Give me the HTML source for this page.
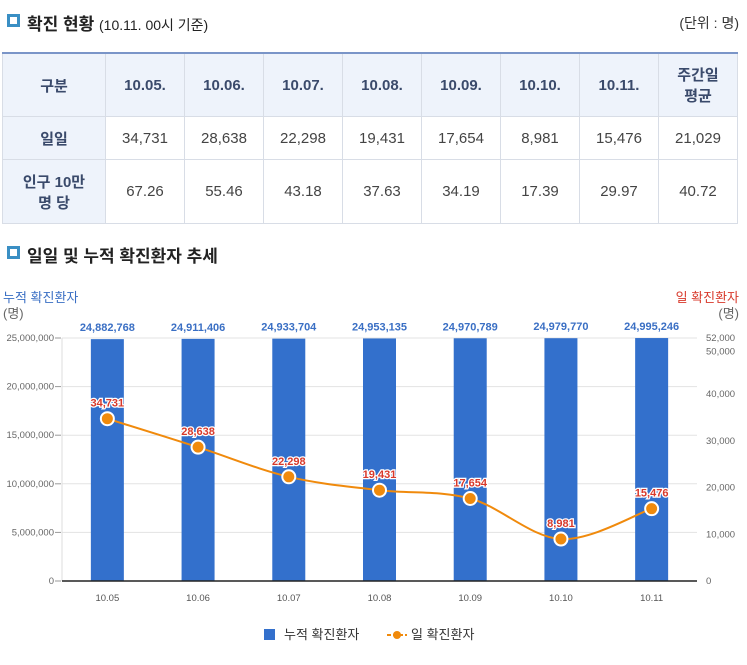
<!DOCTYPE html>
<html><head><meta charset="utf-8"><style>
body{margin:0;width:747px;height:665px;background:#fff;font-family:"Liberation Sans","Noto Sans CJK KR",sans-serif;color:#333;position:relative;overflow:hidden}
.t{position:absolute}
.ic{position:absolute;width:7px;height:7px;border:3px solid #3a8fc4;background:#fff}
table{position:absolute;left:2px;top:52px;border-collapse:collapse;width:736px;table-layout:fixed;border-top:2px solid #7a95c8}
td{border:1px solid #d8dde6;text-align:center;font-size:15px;color:#444;padding:0}
tr.h td{background:#eef3fb;font-weight:bold;color:#3a4a6b;height:62px}
td.f{background:#eef3fb;font-weight:bold;color:#3a4a6b}
</style></head><body>
<div class="ic" style="left:7px;top:14px"></div>
<div class="t" style="left:27px;top:10px;font-size:17px;font-weight:bold;color:#222">확진 현황 <span style="font-size:14px;font-weight:normal">(10.11. 00시 기준)</span></div>
<div class="t" style="right:8px;top:13px;font-size:14px">(단위 : 명)</div>
<table>
<colgroup><col style="width:103px"><col span="8" style="width:79px"></colgroup>
<tr class="h"><td>구분</td><td>10.05.</td><td>10.06.</td><td>10.07.</td><td>10.08.</td><td>10.09.</td><td>10.10.</td><td>10.11.</td><td>주간일<br>평균</td></tr>
<tr style="height:43px"><td class="f">일일</td><td>34,731</td><td>28,638</td><td>22,298</td><td>19,431</td><td>17,654</td><td>8,981</td><td>15,476</td><td>21,029</td></tr>
<tr style="height:64px"><td class="f">인구 10만<br>명 당</td><td>67.26</td><td>55.46</td><td>43.18</td><td>37.63</td><td>34.19</td><td>17.39</td><td>29.97</td><td>40.72</td></tr>
</table>
<div class="ic" style="left:7px;top:246px"></div>
<div class="t" style="left:27px;top:242px;font-size:17px;font-weight:bold;color:#222">일일 및 누적 확진환자 추세</div>
<svg id="c" width="747" height="665" style="position:absolute;left:0;top:0"></svg>
<script>
const categories=["10.05","10.06","10.07","10.08","10.09","10.10","10.11"];
const cumulative=[24882768,24911406,24933704,24953135,24970789,24979770,24995246];
const daily=[34731,28638,22298,19431,17654,8981,15476];
const leftTicks=[0,5000000,10000000,15000000,20000000,25000000];
const rightTicks=[0,10000,20000,30000,40000,50000,52000];
const NS="http://www.w3.org/2000/svg",svg=document.getElementById('c');
const X0=62,X1=697,Y0=581,Y1=338,LMAX=25000000,RMAX=52000;
const bw=(X1-X0)/categories.length;
const xc=i=>X0+bw*(i+0.5);
const yl=v=>Y0-(Math.min(v,LMAX)/LMAX)*(Y0-Y1);
const yr=v=>Y0-(v/RMAX)*(Y0-Y1);
function el(t,a,txt){const e=document.createElementNS(NS,t);for(const k in a)e.setAttribute(k,a[k]);if(txt!==undefined)e.textContent=txt;svg.appendChild(e);return e;}
const fmt=v=>v.toLocaleString('en-US');
leftTicks.forEach(v=>{const g=el('line',{x1:X0,x2:X1,y1:yl(v),y2:yl(v),stroke:'#e3e3e3'});
const t=el('text',{x:54,y:yl(v)+3,'text-anchor':'end','font-size':9.5,fill:'#666'},fmt(v));
el('line',{x1:55,x2:61,y1:yl(v),y2:yl(v),stroke:'#999'});});
rightTicks.forEach(v=>{const t=el('text',{x:706,y:yr(v)+(v==50000?7:3),'text-anchor':'start','font-size':9.5,fill:'#666'},fmt(v));});
el('line',{x1:X0,x2:X0,y1:Y1,y2:Y0,stroke:'#ddd'});
categories.forEach((c,i)=>{
const b=el('rect',{x:xc(i)-16.5,y:yl(cumulative[i]),width:33,height:Y0-yl(cumulative[i]),fill:'#3370cc'});
const l=el('text',{x:xc(i),y:yl(cumulative[i])-8,'text-anchor':'middle','font-size':11,'font-weight':'bold',fill:'#3a6fc4'},fmt(cumulative[i]));
const xt=el('text',{x:xc(i),y:Y0+20,'text-anchor':'middle','font-size':9.5,fill:'#555'},c);});
el('line',{x1:X0,x2:X1,y1:Y0,y2:Y0,stroke:'#222','stroke-width':1.5});
const pts=daily.map((v,i)=>[xc(i),yr(v)]);
let d='M'+pts[0];
for(let i=0;i<pts.length-1;i++){const p0=pts[Math.max(0,i-1)],p1=pts[i],p2=pts[i+1],p3=pts[Math.min(pts.length-1,i+2)];
d+=' C'+(p1[0]+(p2[0]-p0[0])/6)+','+(p1[1]+(p2[1]-p0[1])/6)+' '+(p2[0]-(p3[0]-p1[0])/6)+','+(p2[1]-(p3[1]-p1[1])/6)+' '+p2;}
const ln=el('path',{d:d,fill:'none',stroke:'#f08a0c','stroke-width':2});
pts.forEach((p,i)=>{const ci=el('circle',{cx:p[0],cy:p[1],r:6.5,fill:'#f08a0c',stroke:'#fff','stroke-width':2});
const t=el('text',{x:p[0],y:p[1]-12,'text-anchor':'middle','font-size':11,'font-weight':'bold',fill:'#d8392b',stroke:'#fff','stroke-width':2.5,'paint-order':'stroke'},fmt(daily[i]));});
const a=el('text',{x:3,y:302,'font-size':13,fill:'#3a6fc4'},'누적 확진환자');
el('text',{x:3,y:318,'font-size':13,fill:'#666'},'(명)');
const b=el('text',{x:739,y:302,'text-anchor':'end','font-size':13,fill:'#d8392b'},'일 확진환자');
el('text',{x:739,y:318,'text-anchor':'end','font-size':13,fill:'#666'},'(명)');
const lg1=el('rect',{x:264,y:629,width:11,height:11,fill:'#3370cc'});
el('text',{x:284,y:639,'font-size':13,fill:'#333'},'누적 확진환자');
const lg2=el('line',{x1:387,x2:407,y1:635,y2:635,stroke:'#f08a0c','stroke-width':2,'stroke-dasharray':'4,2'});
el('circle',{cx:397,cy:635,r:4,fill:'#f08a0c'});
el('text',{x:411,y:639,'font-size':13,fill:'#333'},'일 확진환자');
</script>
</body></html>
